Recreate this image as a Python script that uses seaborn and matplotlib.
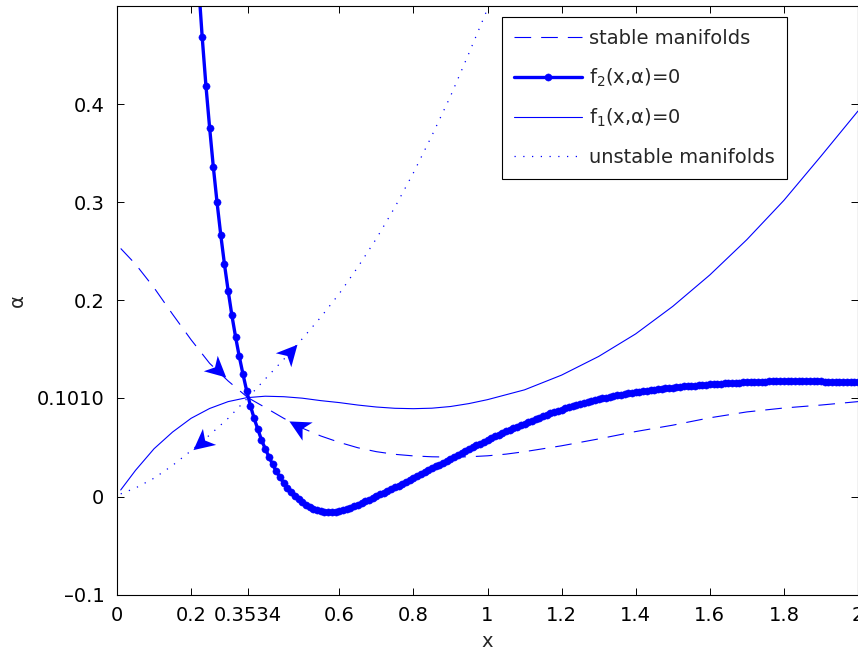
import numpy as np
import pandas as pd
import matplotlib
matplotlib.use("Agg")
import matplotlib.pyplot as plt
import seaborn as sns
from matplotlib.path import Path
from matplotlib.markers import MarkerStyle
from matplotlib.transforms import Affine2D

# f2(x, alpha) = 0, sampled every 0.01 in x
f2_x = np.round(np.arange(0.22, 2.0001, 0.01), 2)
f2_y = [
    0.523, 0.468, 0.419, 0.376, 0.336, 0.300, 0.267, 0.237, 0.210, 0.185,
    0.163, 0.143, 0.125, 0.108, 0.093, 0.080, 0.069, 0.058, 0.049, 0.041,
    0.033, 0.026, 0.020, 0.014, 0.009, 0.005, 0.001, -0.002, -0.005, -0.008,
    -0.010, -0.012, -0.0135, -0.0145, -0.0152, -0.0155, -0.0154, -0.0150, -0.0144, -0.0135,
    -0.0124, -0.0111, -0.0096, -0.0080, -0.0063, -0.0046, -0.0029, -0.0011, 0.0007, 0.0025,
    0.0043, 0.0061, 0.0079, 0.0097, 0.0115, 0.0134, 0.0153, 0.0172, 0.0191, 0.0210,
    0.0229, 0.0249, 0.0269, 0.0289, 0.0309, 0.0329, 0.0349, 0.0369, 0.0389, 0.0409,
    0.0429, 0.0448, 0.0467, 0.0486, 0.0505, 0.0524, 0.0543, 0.0561, 0.0579, 0.0597,
    0.0615, 0.0632, 0.0649, 0.0666, 0.0683, 0.0699, 0.0715, 0.0731, 0.0747, 0.0762,
    0.0777, 0.0792, 0.0807, 0.0821, 0.0835, 0.0849, 0.0862, 0.0875, 0.0888, 0.0900,
    0.0912, 0.0924, 0.0935, 0.0946, 0.0956, 0.0966, 0.0976, 0.0985, 0.0994, 0.1003,
    0.1011, 0.1019, 0.1027, 0.1034, 0.1041, 0.1048, 0.1054, 0.1060, 0.1066, 0.1072,
    0.1077, 0.1082, 0.1087, 0.1092, 0.1097, 0.1101, 0.1105, 0.1109, 0.1113, 0.1117,
    0.1121, 0.1124, 0.1128, 0.1131, 0.1134, 0.1137, 0.1140, 0.1143, 0.1146, 0.1149,
    0.1151, 0.1154, 0.1156, 0.1158, 0.1160, 0.1162, 0.1164, 0.1166, 0.1168, 0.1169,
    0.1171, 0.1172, 0.1173, 0.1174, 0.1175, 0.1176, 0.1177, 0.1177, 0.1178, 0.1178,
    0.1178, 0.1178, 0.1178, 0.1178, 0.1177, 0.1177, 0.1176, 0.1176, 0.1175, 0.1174,
    0.1173, 0.1172, 0.1171, 0.1170, 0.1169, 0.1168, 0.1167, 0.1166, 0.1165,
]

# f1(x, alpha) = 0
f1_x = [0.01, 0.05, 0.10, 0.15, 0.20, 0.25, 0.30, 0.35, 0.40, 0.45, 0.50, 0.55,
        0.60, 0.65, 0.70, 0.75, 0.80, 0.85, 0.90, 0.95, 1.00, 1.10, 1.20, 1.30,
        1.40, 1.50, 1.60, 1.70, 1.80, 1.90, 2.00]
f1_y = [0.007, 0.027, 0.049, 0.066, 0.080, 0.090, 0.097, 0.101, 0.1025, 0.102, 0.1005, 0.098,
        0.096, 0.0935, 0.0915, 0.0902, 0.0898, 0.0903, 0.092, 0.095, 0.099, 0.109, 0.124, 0.143,
        0.166, 0.194, 0.226, 0.262, 0.302, 0.347, 0.393]

# stable manifolds (two branches into the saddle)
stab_left_x = [0.01, 0.05, 0.10, 0.15, 0.20, 0.25, 0.30, 0.3534]
stab_left_y = [0.253, 0.237, 0.213, 0.186, 0.160, 0.136, 0.118, 0.101]
stab_right_x = [0.3534, 0.40, 0.45, 0.50, 0.55, 0.60, 0.65, 0.70, 0.75, 0.80, 0.85, 0.90,
                0.95, 1.00, 1.05, 1.10, 1.20, 1.30, 1.40, 1.50, 1.60, 1.70, 1.80, 1.90, 2.00]
stab_right_y = [0.101, 0.091, 0.080, 0.070, 0.062, 0.0555, 0.050, 0.046, 0.0433, 0.0417, 0.0408, 0.0405,
                0.0408, 0.0418, 0.0435, 0.046, 0.052, 0.059, 0.0665, 0.073, 0.0805, 0.0865, 0.0905, 0.0935, 0.097]

# unstable manifolds (two branches out of the saddle)
unst_low_x = [0.01, 0.05, 0.10, 0.15, 0.20, 0.25, 0.30, 0.3534]
unst_low_y = [0.003, 0.009, 0.019, 0.032, 0.047, 0.063, 0.080, 0.101]
unst_up_x = [0.3534, 0.40, 0.45, 0.50, 0.55, 0.60, 0.65, 0.70, 0.75, 0.80, 0.85, 0.90, 0.95, 1.00, 1.02]
unst_up_y = [0.101, 0.120, 0.140, 0.161, 0.183, 0.207, 0.234, 0.263, 0.295, 0.330, 0.368, 0.408, 0.452, 0.497, 0.515]

# flow arrows: position and direction
arrow_x = [0.272, 0.468, 0.489, 0.226]
arrow_y = [0.129, 0.148, 0.072, 0.055]
arrow_dx = [1.0, 1.0, -1.0, -1.0]
arrow_dy = [-0.34, 0.42, 0.21, -0.31]

xticks = [0, 0.2, 0.3534, 0.6, 0.8, 1, 1.2, 1.4, 1.6, 1.8, 2]
xticklabels = ["0", "0.2", "0.3534", "0.6", "0.8", "1", "1.2", "1.4", "1.6", "1.8", "2"]
yticks = [-0.1, 0, 0.1010, 0.2, 0.3, 0.4]
yticklabels = ["\u20130.1", "0", "0.1010", "0.2", "0.3", "0.4"]

sns.set_theme(style="ticks")
plt.rcParams["font.family"] = ["DejaVu Sans"]
plt.rcParams["mathtext.fontset"] = "dejavusans"

blue = (0, 0, 1)
fig = plt.figure(figsize=(8.58, 6.54), dpi=100)
ax = fig.add_axes([117 / 858, 59 / 654, 741 / 858, 589 / 654])

common = dict(ax=ax, color=blue, sort=False, estimator=None)
sns.lineplot(x=stab_left_x, y=stab_left_y, lw=0.8, ls=(0, (15, 9)), label="stable manifolds", **common)
sns.lineplot(x=stab_right_x, y=stab_right_y, lw=0.8, ls=(0, (15, 9)), label="_nolegend_", **common)
sns.lineplot(x=f2_x, y=f2_y, lw=2.4, marker="o", markersize=5.2, markeredgecolor=blue,
             markeredgewidth=0.3, label="f$_2$(x,\u03b1)=0", **common)
sns.lineplot(x=f1_x, y=f1_y, lw=0.8, label="f$_1$(x,\u03b1)=0", **common)
sns.lineplot(x=unst_low_x, y=unst_low_y, lw=0.9, ls=(0, (1, 6)), label="unstable manifolds", **common)
sns.lineplot(x=unst_up_x, y=unst_up_y, lw=0.9, ls=(0, (1, 6)), label="_nolegend_", **common)

ax.set_xlim(0, 2)
ax.set_ylim(-0.1, 0.5)

# notched arrow heads, rotated to follow the flow in screen space
head = Path([(1, 0), (-1, 1), (-0.45, 0), (-1, -1), (1, 0)],
            [Path.MOVETO, Path.LINETO, Path.LINETO, Path.LINETO, Path.CLOSEPOLY])
for x, y, dx, dy in zip(arrow_x, arrow_y, arrow_dx, arrow_dy):
    p0 = ax.transData.transform((x, y))
    p1 = ax.transData.transform((x + dx * 0.01, y + dy * 0.01))
    ang = np.degrees(np.arctan2(p1[1] - p0[1], p1[0] - p0[0]))
    m = MarkerStyle(head, transform=Affine2D().rotate_deg(ang))
    ax.plot(x, y, marker=m, ms=15, color=blue, mew=0, ls="none")

ax.set_xticks(xticks)
ax.set_xticklabels(xticklabels)
ax.set_yticks(yticks)
ax.set_yticklabels(yticklabels)
ax.tick_params(direction="in", top=True, right=True, length=5, width=0.7,
               labelsize=14, colors="black")
ax.tick_params(axis="x", pad=8)
ax.tick_params(axis="y", pad=9)
for s in ax.spines.values():
    s.set_color("black")
    s.set_linewidth(0.8)
ax.set_xlabel("x", fontsize=14, labelpad=5)
ax.set_ylabel("\u03b1", fontsize=14, labelpad=7)

handles, labels = ax.get_legend_handles_labels()
leg = ax.legend(handles, labels, loc="upper right", bbox_to_anchor=(0.904, 0.981),
                borderaxespad=0, fontsize=14, frameon=True, fancybox=False,
                edgecolor="black", framealpha=1, handlelength=3.5, handletextpad=0.4,
                labelspacing=0.95, borderpad=0.6)
leg.get_frame().set_linewidth(0.8)

fig.savefig("out.png", dpi=100)
